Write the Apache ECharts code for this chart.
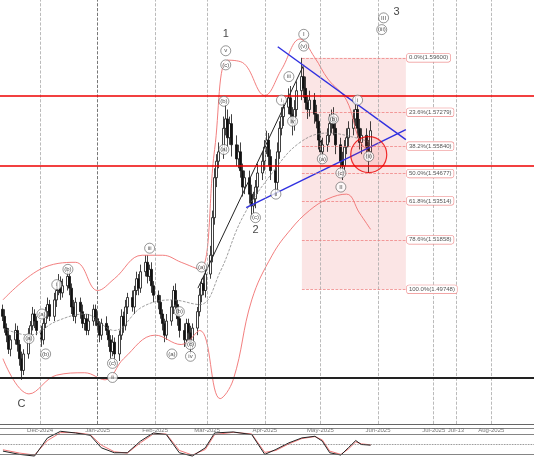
<!DOCTYPE html>
<html><head><meta charset="utf-8">
<script src="https://cdn.jsdelivr.net/npm/echarts@6/dist/echarts.min.js"></script>
<style>html,body{margin:0;padding:0;background:#fff}#chart{width:534px;height:462px}</style>
</head><body><div id="chart"></div>
<script>
// daily closes, Mon-Fri from 2024-11-11
const closes = [
  1.486,1.481,1.478,1.472,1.476, 1.480,1.474,1.468,1.463,1.470, 1.478,1.482,1.487,1.484,1.480,
  1.476,1.483,1.488,1.491,1.486, 1.493,1.497,1.501,1.496,1.499, 1.503,1.498,1.490,1.486,1.492,
  1.488,1.483,1.485,1.480,1.484, 1.489,1.485,1.482,1.478,1.483, 1.480,1.476,1.471,1.475,1.470,
  1.478,1.486,1.482,1.490,1.494, 1.490,1.497,1.502,1.498,1.505, 1.509,1.503,1.506,1.499,1.495,
  1.492,1.487,1.483,1.478,1.484, 1.490,1.497,1.491,1.485,1.480, 1.476,1.483,1.479,1.474,1.481,
  1.488,1.495,1.500,1.497,1.504, 1.512,1.528,1.545,1.552,1.556, 1.566,1.570,1.562,1.568,1.559,
  1.553,1.556,1.548,1.541,1.545, 1.538,1.533,1.536,1.541,1.547, 1.552,1.558,1.561,1.554,1.548,
  1.543,1.556,1.566,1.571,1.575, 1.579,1.572,1.568,1.574,1.582, 1.588,1.583,1.577,1.574,1.578,
  1.572,1.569,1.561,1.556,1.559, 1.563,1.568,1.571,1.566,1.559, 1.552,1.550,1.558,1.562,1.566,
  1.570,1.574,1.566,1.560,1.563, 1.558,1.556,1.565
];
// wick sizes (thousandths) above / below body
const wickUp = [
  2,3,2,3,2, 3,2,2,3,2, 3,2,3,2,2, 2,3,2,3,2, 3,2,3,2,3, 3,2,2,3,2,
  2,3,2,2,3, 2,2,3,2,2, 3,2,2,3,2, 2,3,2,3,2, 3,2,3,2,3, 3,3,2,3,2,
  2,3,2,2,3, 3,2,3,2,2, 3,2,2,3,2, 2,3,2,3,2, 4,3,4,3,4, 5,6,4,3,4,
  4,3,4,3,3, 3,4,3,3,4, 4,3,4,3,3, 5,4,3,4,3, 4,5,3,4,4, 8,4,5,3,4,
  3,4,3,4,3, 3,4,3,4,3, 3,4,3,4,3, 4,6,3,4,3, 3,3,4
];
const wickDn = [
  2,2,3,2,3, 2,3,3,4,2, 2,3,2,3,2, 3,2,2,3,2, 2,3,2,3,2, 2,3,3,2,3,
  3,2,3,2,2, 2,3,2,3,2, 2,3,3,2,4, 3,2,3,2,3, 2,3,2,3,2, 2,3,2,3,3,
  3,2,3,3,2, 2,3,2,3,3, 3,2,3,4,2, 3,2,3,2,3, 2,3,3,4,3, 3,3,4,3,5,
  3,4,3,4,3, 4,5,3,4,3, 3,4,3,4,4, 6,4,3,3,4, 3,4,5,3,3, 4,4,3,4,3,
  4,3,4,5,3, 3,3,4,3,4, 4,6,3,3,4, 3,3,4,3,5, 4,9,3
];

const bbUpper = [['2024-11-11',1.493],['2024-12-01',1.506],['2024-12-20',1.509],['2025-01-01',1.497],['2025-01-10',1.502],['2025-01-25',1.512],['2025-02-05',1.512],['2025-02-15',1.509],['2025-02-25',1.506],['2025-03-05',1.557],['2025-03-12',1.595],['2025-03-20',1.594],['2025-04-01',1.580],['2025-04-10',1.591],['2025-04-20',1.604],['2025-04-28',1.596],['2025-05-05',1.587],['2025-05-15',1.578],['2025-05-22',1.561],['2025-05-28',1.555]];
const bbLower = [['2024-11-11',1.468],['2024-11-25',1.453],['2024-12-10',1.461],['2024-12-25',1.462],['2025-01-05',1.459],['2025-01-15',1.468],['2025-02-01',1.478],['2025-02-15',1.474],['2025-02-25',1.480],['2025-03-08',1.451],['2025-03-15',1.459],['2025-03-25',1.493],['2025-04-05',1.512],['2025-04-15',1.523],['2025-04-25',1.531],['2025-05-05',1.536],['2025-05-15',1.538],['2025-05-22',1.530],['2025-05-28',1.523]];
const bbMid = [['2024-11-11',1.481],['2024-11-25',1.478],['2024-12-10',1.484],['2024-12-25',1.487],['2025-01-10',1.480],['2025-01-25',1.490],['2025-02-10',1.493],['2025-02-25',1.491],['2025-03-08',1.505],['2025-03-20',1.528],['2025-04-05',1.547],['2025-04-20',1.560],['2025-05-05',1.564],['2025-05-20',1.562],['2025-05-28',1.560]];

const stochK = [['2024-11-11',30],['2024-11-20',20],['2024-11-28',15],['2024-12-05',70],['2024-12-12',90],['2024-12-20',85],['2024-12-28',78],['2025-01-03',40],['2025-01-10',25],['2025-01-17',25],['2025-01-24',60],['2025-01-31',85],['2025-02-07',80],['2025-02-14',25],['2025-02-21',15],['2025-02-28',40],['2025-03-05',85],['2025-03-15',88],['2025-03-25',80],['2025-04-01',20],['2025-04-07',35],['2025-04-14',55],['2025-04-21',70],['2025-04-28',75],['2025-05-02',60],['2025-05-06',25],['2025-05-12',18],['2025-05-16',40],['2025-05-20',62],['2025-05-23',50],['2025-05-28',48]];
const stochD = [['2024-11-11',34],['2024-11-20',24],['2024-11-28',18],['2024-12-05',62],['2024-12-12',86],['2024-12-20',86],['2024-12-28',80],['2025-01-03',48],['2025-01-10',28],['2025-01-17',24],['2025-01-24',55],['2025-01-31',82],['2025-02-07',82],['2025-02-14',32],['2025-02-21',18],['2025-02-28',35],['2025-03-05',80],['2025-03-15',87],['2025-03-25',82],['2025-04-01',26],['2025-04-07',32],['2025-04-14',52],['2025-04-21',68],['2025-04-28',74],['2025-05-02',64],['2025-05-06',30],['2025-05-12',20],['2025-05-16',36],['2025-05-20',58],['2025-05-23',52],['2025-05-28',49]];

const fibLevels = [['0.0%',1.59600],['23.6%',1.57279],['38.2%',1.55840],['50.0%',1.54677],['61.8%',1.53514],['78.6%',1.51858],['100.0%',1.49748]];
const fibStart = '2025-04-21', fibEnd = '2025-06-16';
const redLevels = [1.5760, 1.5548];
const supportLevel = 1.4588;
const monthTicks = ['2024-12-01','2025-01-01','2025-02-01','2025-03-01','2025-04-01','2025-05-01','2025-06-01','2025-07-01','2025-07-13','2025-08-01'];
const tickNames = ['Dec-2024','Jan-2025','Feb-2025','Mar-2025','Apr-2025','May-2025','Jun-2025','Jul-2025','Jul-13','Aug-2025'];
// circled wave labels [date, price, text]
const waveLabels = [
  ['2024-12-10',1.4995,'i'],['2024-12-02',1.487,'(a)'],['2024-12-16',1.506,'(b)'],['2024-12-04',1.470,'(b)'],['2024-11-25',1.4765,'(a)'],
  ['2025-01-09',1.466,'(c)'],['2025-01-09',1.460,'ii'],['2025-01-29',1.515,'iii'],
  ['2025-02-10',1.470,'(a)'],['2025-02-14',1.488,'(b)'],['2025-02-20',1.474,'(c)'],['2025-02-20',1.469,'iv'],
  ['2025-02-26',1.507,'(a)'],['2025-03-10',1.5775,'(b)'],['2025-03-10',1.557,'(a)'],
  ['2025-03-11',1.593,'(c)'],['2025-03-11',1.599,'v'],['2025-03-27',1.528,'(c)'],['2025-04-10',1.578,'i'],
  ['2025-04-14',1.588,'iii'],['2025-04-16',1.569,'iv'],['2025-04-07',1.538,'ii'],['2025-04-22',1.601,'(v)'],['2025-04-22',1.606,'I'],
  ['2025-05-02',1.553,'(a)'],['2025-05-08',1.570,'(b)'],['2025-05-12',1.547,'(c)'],['2025-05-12',1.541,'II'],
  ['2025-05-21',1.578,'i'],['2025-05-27',1.554,'(ii)'],['2025-06-03',1.608,'(iii)'],['2025-06-04',1.613,'III']
];
const bigLabels = [['2025-03-11',1.6060,'1'],['2025-03-27',1.5228,'2'],['2025-06-11',1.6153,'3'],['2024-11-21',1.4488,'C']];
const upperTrend = [['2025-04-08',1.6007],['2025-06-16',1.5612]];
const lowerTrend = [['2025-03-22',1.5323],['2025-06-16',1.5654]];
const waveLine = [['2025-02-24',1.498],['2025-04-22',1.593]];

const DAY = 86400000;
const dates = [];
let d = Date.UTC(2024, 10, 11);
while (dates.length < closes.length) {
  const wd = new Date(d).getUTCDay();
  if (wd !== 0 && wd !== 6) dates.push(d);
  d += DAY;
}
const candles = closes.map(function (c, i) {
  const o = i === 0 ? 1.489 : closes[i - 1];
  return [dates[i], o, c, Math.min(o, c) - wickDn[i] / 1000, Math.max(o, c) + wickUp[i] / 1000];
});

const yMin = 1.4402, yMax = 1.6206;
const xMin = '2024-11-09T10:00:00Z', xMax = '2025-08-24';
const myChart = echarts.init(document.getElementById('chart'));

const option = {
  animation: false,
  grid: [{ left: 0, right: 0, top: 0, bottom: 38 }, { left: 0, right: 0, top: 428, bottom: 1 }],
  xAxis: [{
    type: 'time', min: xMin, max: xMax, gridIndex: 0,
    axisLine: { lineStyle: { color: '#666' } }, splitLine: { show: false }, axisTick: { show: false }, axisLabel: { show: false }
  }, {
    type: 'time', min: xMin, max: xMax, gridIndex: 1,
    axisLine: { show: false }, axisTick: { show: false }, axisLabel: { show: false }, splitLine: { show: false }
  }],
  yAxis: [{ type: 'value', min: yMin, max: yMax, gridIndex: 0, show: false },
    { type: 'value', min: 0, max: 100, gridIndex: 1, show: false }],
  series: [
    {
      type: 'line', data: [], xAxisIndex: 0, yAxisIndex: 0,
      markArea: { silent: true, itemStyle: { color: 'rgba(240,150,150,0.25)' }, data: [[{ xAxis: fibStart, yAxis: 1.49748 }, { xAxis: fibEnd, yAxis: 1.59600 }]] },
      markLine: {
        silent: true, symbol: 'none',
        data: monthTicks.map(function (t, i) { return { xAxis: t, lineStyle: { color: i === 1 ? '#555' : '#aaa', type: 'dashed', width: 0.8 }, label: { show: false } }; })
          .concat(fibLevels.map(function (f) {
            return [{ coord: [fibStart, f[1]], lineStyle: { color: '#e77', type: 'dashed', width: 0.7 },
              label: { show: true, position: 'end', formatter: f[0] + '(' + f[1].toFixed(5) + ')', distance: 1, color: '#555', fontSize: 6, backgroundColor: '#fff', borderColor: '#e88', borderWidth: 0.6, borderRadius: 2, padding: [1, 2] } },
              { coord: [fibEnd, f[1]] }];
          }))
      }
    },
    {
      type: 'line', data: [], markLine: {
        silent: true, symbol: 'none', label: { show: false },
        data: redLevels.map(function (v) { return { yAxis: v, lineStyle: { color: '#e00', width: 1.6, type: 'solid' } }; })
          .concat([{ yAxis: supportLevel, lineStyle: { color: '#222', width: 2, type: 'solid' } }])
      }
    },
    { type: 'line', data: bbUpper, smooth: 0.4, symbol: 'none', lineStyle: { color: '#f07070', width: 0.9 } },
    { type: 'line', data: bbLower, smooth: 0.4, symbol: 'none', lineStyle: { color: '#f07070', width: 0.9 } },
    { type: 'line', data: bbMid, smooth: 0.4, symbol: 'none', lineStyle: { color: '#777', width: 0.7, type: 'dashed' } },
    {
      type: 'candlestick', data: candles, encode: { x: 0, y: [1, 2, 3, 4] },
      barWidth: 2.4, itemStyle: { color: '#fff', color0: '#111', borderColor: '#111', borderColor0: '#111', borderWidth: 0.8 }
    },
    { type: 'line', data: waveLine, symbol: 'none', lineStyle: { color: '#222', width: 1 } },
    { type: 'line', data: upperTrend, symbol: 'none', lineStyle: { color: '#3030e0', width: 1.4 } },
    { type: 'line', data: lowerTrend, symbol: 'none', lineStyle: { color: '#3030e0', width: 1.4 } },
    {
      type: 'scatter', data: [['2025-05-27', 1.5548]], symbol: 'circle', symbolSize: 36,
      itemStyle: { color: 'rgba(255,60,60,0.15)', borderColor: '#e00', borderWidth: 1.2 }, z: 5
    },
    {
      type: 'scatter', data: waveLabels, symbol: 'circle', symbolSize: 10, z: 6,
      itemStyle: { color: '#fff', borderColor: '#444', borderWidth: 0.7 },
      label: { show: true, position: 'inside', formatter: function (p) { return p.data[2]; }, fontSize: 6, color: '#222' }
    },
    {
      type: 'scatter', data: bigLabels, symbolSize: 1, z: 6, itemStyle: { color: 'rgba(0,0,0,0)' },
      label: { show: true, position: 'inside', formatter: function (p) { return p.data[2]; }, fontSize: 11, color: '#111', fontFamily: 'Liberation Sans' }
    },
    {
      type: 'scatter', data: monthTicks.map(function (t) { return [t, yMin]; }), symbolSize: 1, clip: false,
      itemStyle: { color: 'rgba(0,0,0,0)' },
      label: { show: true, position: 'bottom', distance: 3, fontSize: 6, color: '#555', formatter: function (p) { return tickNames[p.dataIndex]; } }
    },
    {
      type: 'line', xAxisIndex: 1, yAxisIndex: 1, data: stochD, symbol: 'none', lineStyle: { color: '#e55', width: 0.8 },
      markLine: {
        silent: true, symbol: 'none', label: { show: false },
        data: [{ yAxis: 20, lineStyle: { color: '#666', type: 'solid', width: 0.8 } }, { yAxis: 80, lineStyle: { color: '#666', type: 'solid', width: 0.8 } },
          { yAxis: 50, lineStyle: { color: '#666', type: 'dotted', width: 0.8 } }, { yAxis: 100, lineStyle: { color: '#666', type: 'solid', width: 0.8 } }]
      }
    },
    { type: 'line', xAxisIndex: 1, yAxisIndex: 1, data: stochK, symbol: 'none', lineStyle: { color: '#222', width: 1 } }
  ]
};
myChart.setOption(option);
</script></body></html>
